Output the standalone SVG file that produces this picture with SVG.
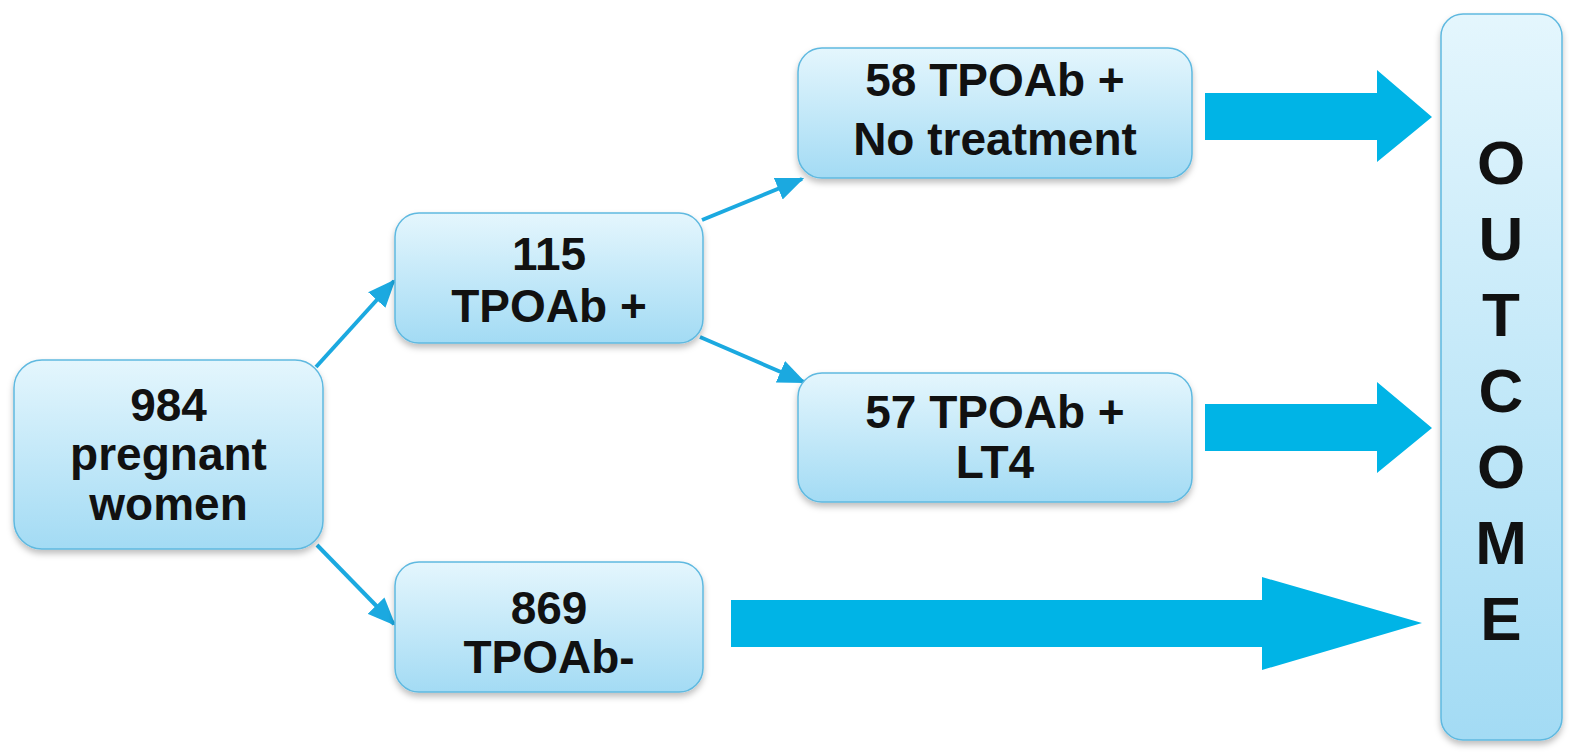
<svg xmlns="http://www.w3.org/2000/svg" width="1569" height="752" viewBox="0 0 1569 752">
  <defs>
    <linearGradient id="boxGrad" x1="0" y1="0" x2="0" y2="1">
      <stop offset="0" stop-color="#e4f6fd"/>
      <stop offset="1" stop-color="#a3dbf4"/>
    </linearGradient>
    <filter id="shadow" x="-10%" y="-10%" width="120%" height="130%">
      <feDropShadow dx="0" dy="4" stdDeviation="3" flood-color="#000000" flood-opacity="0.25"/>
    </filter>
    <marker id="arrowHead" viewBox="0 0 12 10" refX="11" refY="5" markerWidth="7" markerHeight="6" markerUnits="strokeWidth" orient="auto">
      <path d="M0,0 L12,5 L0,10 z" fill="#1ba9e0"/>
    </marker>
    <style>
      .box { fill: url(#boxGrad); stroke: #5fb9e0; stroke-width: 1.5; filter: url(#shadow); }
      .label { font-family: "Liberation Sans", Arial, sans-serif; font-weight: bold; font-size: 46px; fill: #111111; text-anchor: middle; }
      .big { font-family: "Liberation Sans", Arial, sans-serif; font-weight: bold; font-size: 62px; fill: #111111; text-anchor: middle; }
      .thin { stroke: #1ba9e0; stroke-width: 4; fill: none; marker-end: url(#arrowHead); }
      .fat { fill: #00b4e6; }
    </style>
  </defs>
  <rect width="1569" height="752" fill="#ffffff"/>

  <g id="connectors">
    <line class="thin" x1="316" y1="367" x2="394" y2="281"/>
    <line class="thin" x1="317" y1="545" x2="394" y2="624"/>
    <line class="thin" x1="702" y1="220" x2="802" y2="179"/>
    <line class="thin" x1="700" y1="337" x2="804" y2="382"/>
    <polygon class="fat" points="1205,93 1377,93 1377,70 1432,117 1377,162 1377,140 1205,140"/>
    <polygon class="fat" points="1205,404 1377,404 1377,382 1432,428 1377,473 1377,451 1205,451"/>
    <polygon class="fat" points="731,600 1262,600 1262,577 1422,623 1262,670 1262,647 731,647"/>
  </g>

  <g id="node-984">
    <rect class="box" x="14" y="360" width="309" height="189" rx="28"/>
    <text class="label" x="168.5" y="421">984</text>
    <text class="label" x="168.5" y="470">pregnant</text>
    <text class="label" x="168.5" y="520">women</text>
  </g>

  <g id="node-115">
    <rect class="box" x="395" y="213" width="308" height="130" rx="24"/>
    <text class="label" x="549" y="270">115</text>
    <text class="label" x="549" y="322">TPOAb +</text>
  </g>

  <g id="node-869">
    <rect class="box" x="395" y="562" width="308" height="130" rx="24"/>
    <text class="label" x="549" y="624">869</text>
    <text class="label" x="549" y="673">TPOAb-</text>
  </g>

  <g id="node-58">
    <rect class="box" x="798" y="48" width="394" height="130" rx="24"/>
    <text class="label" x="995" y="96">58 TPOAb +</text>
    <text class="label" x="995" y="155">No treatment</text>
  </g>

  <g id="node-57">
    <rect class="box" x="798" y="373" width="394" height="129" rx="24"/>
    <text class="label" x="995" y="428">57 TPOAb +</text>
    <text class="label" x="995" y="478">LT4</text>
  </g>

  <g id="node-outcome">
    <rect class="box" x="1441" y="14" width="121" height="726" rx="22"/>
    <text class="big" x="1501" y="184">O</text>
    <text class="big" x="1501" y="260">U</text>
    <text class="big" x="1501" y="336">T</text>
    <text class="big" x="1501" y="412">C</text>
    <text class="big" x="1501" y="488">O</text>
    <text class="big" x="1501" y="564">M</text>
    <text class="big" x="1501" y="640">E</text>
  </g>
</svg>
